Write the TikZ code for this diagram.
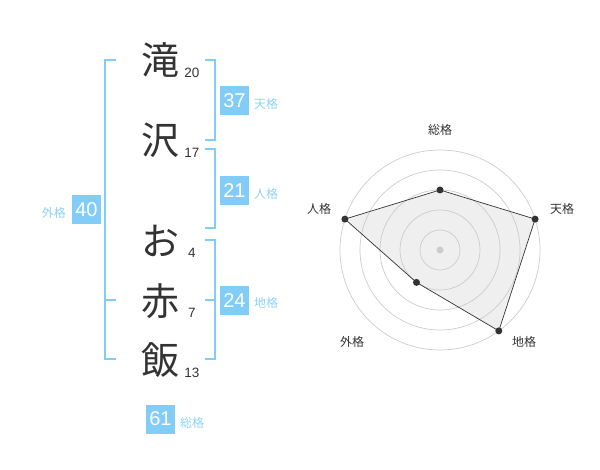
\documentclass[tikz,border=0pt]{standalone}
\usepackage{fontspec}
\setmainfont{Liberation Sans}
\newfontfamily\jp{Noto Sans CJK JP}
\definecolor{kblue}{HTML}{82CDF8}
\definecolor{klabel}{HTML}{8ED2F8}
\definecolor{kdark}{HTML}{333333}
\definecolor{kgrid}{HTML}{CCCCCC}
\definecolor{kfill}{HTML}{EFEFEF}
\begin{document}
\begin{tikzpicture}[x=1pt,y=-1pt,
  kanji/.style={inner sep=0pt,text=kdark,font=\jp\fontsize{38}{38}\selectfont},
  stroke/.style={inner sep=0pt,text=kdark,font=\fontsize{13.5}{13.5}\selectfont},
  valbox/.style={fill=kblue,text=white,minimum width=29pt,minimum height=29pt,inner sep=0pt,font=\fontsize{20}{20}\selectfont},
  lab/.style={inner sep=0pt,text=klabel,font=\jp\fontsize{12}{12}\selectfont},
  brk/.style={draw=kblue,line width=2pt},
  rlab/.style={inner sep=0pt,text=kdark,font=\jp\fontsize{12}{12}\selectfont},
  ring/.style={draw=kgrid,line width=0.7pt},
  dot/.style={circle,fill=kdark,inner sep=0pt,minimum size=7pt}]
\useasboundingbox (0,0) rectangle (600,470);
% characters
\node[kanji] (c1) at (160,60) {滝};
\node[kanji] (c2) at (160,140) {沢};
\node[kanji] (c3) at (160,241) {お};
\node[kanji] (c4) at (160,301) {赤};
\node[kanji] (c5) at (160,360) {飯};
\node[stroke] (n1) at (192,73) {20};
\node[stroke] (n2) at (192,153) {17};
\node[stroke] (n3) at (192,253) {4};
\node[stroke] (n4) at (192,313) {7};
\node[stroke] (n5) at (192,373) {13};
% brackets
\draw[brk] (116,60) -- (105,60) -- (105,359) -- (116,359);
\draw[brk] (105,300) -- (116,300);
\draw[brk] (205,60) -- (215,60) -- (215,140) -- (205,140);
\draw[brk] (205,149) -- (215,149) -- (215,228) -- (205,228);
\draw[brk] (205,240) -- (215,240) -- (215,359) -- (205,359);
\draw[brk] (205,300) -- (215,300);
% value boxes
\node[valbox] (b37) at (234.5,100.5) {37};
\node[lab,anchor=west] (l37) at (254,104) {天格};
\node[valbox] (b21) at (234.5,190.5) {21};
\node[lab,anchor=west] (l21) at (254,194) {人格};
\node[valbox] (b24) at (234.5,300.5) {24};
\node[lab,anchor=west] (l24) at (254,303) {地格};
\node[valbox] (b40) at (86.5,210) {40};
\node[lab,anchor=east] (l40) at (66,213) {外格};
\node[valbox] (b61) at (160.5,419) {61};
\node[lab,anchor=west] (l61) at (180,423) {総格};
% radar chart
\coordinate (O) at (440,250);
\path (O) ++(0,-60) coordinate (pSo)
      (O) ++(95.1,-30.9) coordinate (pT)
      (O) ++(58.8,80.9) coordinate (pC)
      (O) ++(-23.5,32.4) coordinate (pG)
      (O) ++(-95.1,-30.9) coordinate (pJ);
\fill[kfill] (pSo) -- (pT) -- (pC) -- (pG) -- (pJ) -- cycle;
\foreach \r in {20,40,60,80,100} \draw[ring] (O) circle[radius=\r];
\fill[kgrid] (O) circle[radius=3.5];
\draw[kdark,line width=0.7pt] (pSo) -- (pT) -- (pC) -- (pG) -- (pJ) -- cycle;
\foreach \p in {pSo,pT,pC,pG,pJ} \node[dot] at (\p) {};
\node[rlab] (rS) at (440,130) {総格};
\node[rlab] (rT) at (562,209) {天格};
\node[rlab] (rJ) at (319,209) {人格};
\node[rlab] (rG) at (352,342) {外格};
\node[rlab] (rC) at (524,342) {地格};
\end{tikzpicture}
\end{document}
